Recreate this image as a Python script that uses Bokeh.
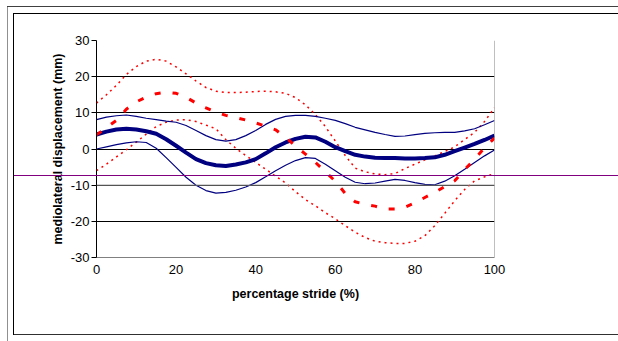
from bokeh.plotting import figure
from bokeh.models import FixedTicker, Span, Range1d, InlineStyleSheet, NumeralTickFormatter
from bokeh.embed import file_html
from bokeh.resources import INLINE

# ---- data ----
stride = [0, 2.5, 5, 7.5, 10, 12.5, 15, 17.5, 20, 22.5, 25, 27.5, 30, 32.5, 35, 37.5,
          40, 42.5, 45, 47.5, 50, 52.5, 55, 57.5, 60, 62.5, 65, 67.5, 70, 72.5, 75,
          77.5, 80, 82.5, 85, 87.5, 90, 92.5, 95, 97.5, 100]

blue_mean = [4.0, 4.8, 5.4, 5.6, 5.4, 4.9, 4.2, 2.7, 0.9, -1.0, -2.8, -3.9, -4.5, -4.7,
             -4.3, -3.7, -2.8, -1.2, 0.5, 1.8, 2.8, 3.4, 3.2, 2.0, 0.5, -0.6, -1.6, -2.1,
             -2.4, -2.5, -2.5, -2.6, -2.6, -2.5, -2.3, -1.6, -0.6, 0.4, 1.4, 2.5, 3.7]

blue_upper = [8.1, 8.8, 9.2, 9.4, 9.0, 8.5, 8.1, 7.7, 7.4, 6.5, 5.1, 3.7, 2.6, 2.2, 2.6,
              3.7, 5.1, 6.8, 8.2, 9.0, 9.3, 9.3, 9.0, 8.5, 7.9, 7.0, 6.0, 5.3, 4.6, 4.0,
              3.5, 3.6, 4.0, 4.3, 4.5, 4.6, 4.6, 5.0, 5.6, 6.7, 7.9]

blue_lower = [0.0, 0.6, 1.2, 1.7, 2.0, 1.8, 0.2, -2.4, -5.1, -7.8, -10.0, -11.5, -12.2,
              -12.0, -11.4, -10.5, -9.3, -7.7, -6.0, -4.5, -3.2, -2.4, -2.6, -4.2, -6.0,
              -7.8, -9.2, -9.6, -9.4, -8.9, -8.4, -8.7, -9.3, -9.8, -9.9, -8.9, -7.4,
              -5.6, -3.7, -1.9, -0.3]

red_mean = [3.9, 5.9, 7.9, 11.0, 13.0, 14.4, 15.3, 15.7, 15.4, 14.3, 12.7, 11.4, 10.2,
            9.3, 8.7, 8.0, 7.2, 6.3, 5.3, 3.3, 0.8, -1.4, -3.7, -6.3, -8.9, -12.3, -14.6,
            -15.3, -15.8, -16.6, -16.6, -16.1, -14.9, -13.4, -12.0, -10.4, -8.8, -5.7,
            -2.8, 0.3, 3.0]

red_upper = [12.7, 15.0, 17.6, 20.6, 22.8, 24.3, 24.8, 24.3, 22.7, 20.8, 18.8, 17.0, 16.0,
             15.6, 15.6, 15.7, 15.9, 16.0, 15.8, 15.4, 14.2, 12.2, 9.5, 6.2, 2.2, -1.8,
             -5.3, -6.3, -6.9, -7.1, -6.8, -5.4, -4.2, -3.0, -1.9, -0.7, 0.6, 2.6, 4.6,
             7.6, 11.4]

red_lower = [-6.0, -4.2, -2.2, -0.2, 1.9, 4.1, 6.2, 7.4, 8.0, 8.1, 7.6, 6.6, 5.6, 2.6,
             0.2, -1.8, -3.7, -5.6, -7.5, -9.4, -11.8, -14.0, -15.7, -17.6, -19.3, -21.2,
             -23.0, -24.5, -25.5, -25.9, -26.1, -26.1, -25.5, -24.0, -21.2, -17.8, -14.3,
             -11.2, -8.8, -7.7, -6.8]

x_ticks = [0, 20, 40, 60, 80, 100]
y_ticks = [-30, -20, -10, 0, 10, 20, 30]
x_title = "percentage stride (%)"
y_title = "mediolateral displacement (mm)"
stray_line_level = -7.4   # horizontal purple rule crossing the whole picture

FONT = "Liberation Sans"
W, H = 618, 341
FL, FT, FW, FH = 96, 40, 398, 217   # plot frame placement

p = figure(width=W, height=H, output_backend="svg", toolbar_location=None,
           x_range=Range1d(0, 100), y_range=Range1d(-30, 30),
           min_border_left=FL, min_border_right=W - FL - FW, min_border_top=FT,
           min_border_bottom=H - FT - FH, background_fill_color="white",
           border_fill_color="white")
p.outline_line_color = None

# axes
p.xaxis.ticker = FixedTicker(ticks=x_ticks)
p.yaxis.ticker = FixedTicker(ticks=y_ticks)
p.xaxis.formatter = NumeralTickFormatter(format="0")
p.yaxis.formatter = NumeralTickFormatter(format="0")
p.xaxis.minor_tick_line_color = None
p.yaxis.minor_tick_line_color = None
p.xaxis.major_tick_out = 0
p.xaxis.major_tick_in = 0
p.yaxis.major_tick_out = 5
p.yaxis.major_tick_in = 0
p.xaxis.axis_line_color = "#808080"
p.yaxis.axis_line_color = "black"
p.yaxis.major_tick_line_color = "black"
for ax in (p.xaxis, p.yaxis):
    ax.major_label_text_font = FONT
    ax.major_label_text_font_size = "13px"
    ax.major_label_text_color = "black"
    ax.axis_label_text_font = FONT
    ax.axis_label_text_font_size = "12.5px"
    ax.axis_label_text_font_style = "bold"
    ax.axis_label_text_color = "black"
p.xaxis.major_label_standoff = 7
p.yaxis.major_label_standoff = 2
p.xaxis.axis_label = x_title
p.yaxis.axis_label = y_title
p.xaxis.axis_label_standoff = 10
p.yaxis.axis_label_standoff = 3

# grid
p.xgrid.visible = False
p.ygrid.ticker = FixedTicker(ticks=[-20, -10, 0, 10, 20, 30])
p.ygrid.grid_line_color = "black"
p.ygrid.grid_line_width = 1
p.add_layout(Span(location=-10, dimension="width", line_color="#808080", line_width=1))
p.add_layout(Span(location=100, dimension="height", line_color="#808080", line_width=1))

# series
p.line(stride, red_upper, line_color="#ff0000", line_width=1.5, line_dash="2 4")
p.line(stride, red_lower, line_color="#ff0000", line_width=1.5, line_dash="2 4")
p.line(stride, blue_upper, line_color="#000080", line_width=1.2)
p.line(stride, blue_lower, line_color="#000080", line_width=1.2)
p.line(stride, blue_mean, line_color="#000080", line_width=4)
p.line(stride, red_mean, line_color="#ff0000", line_width=3, line_dash="6 12")

# picture borders and the stray purple rule (drawn over the whole page area)
stray_px = round(FT + (30 - stray_line_level) / 60 * FH)
css = f"""
:host {{ position: relative; }}
:host::after {{
  content: "";
  position: absolute;
  left: 0; top: 0; width: {W}px; height: {H}px;
  pointer-events: none;
  z-index: 10;
  background-image:
    linear-gradient(#404040, #404040),
    linear-gradient(#909090, #909090),
    linear-gradient(#000000, #000000),
    linear-gradient(#000000, #000000),
    linear-gradient(#303030, #303030),
    linear-gradient(#800080, #800080);
  background-repeat: no-repeat;
  background-position: 7px 6px, 7px 6px, 13px 13px, 13px 13px, 13px 334px, 13px {stray_px}px;
  background-size: 611px 1px, 1px 335px, 605px 1px, 1px 322px, 605px 1px, 605px 1px;
}}
"""
p.stylesheets = [InlineStyleSheet(css=css)]

open("out.html", "w").write(file_html(p, INLINE))
